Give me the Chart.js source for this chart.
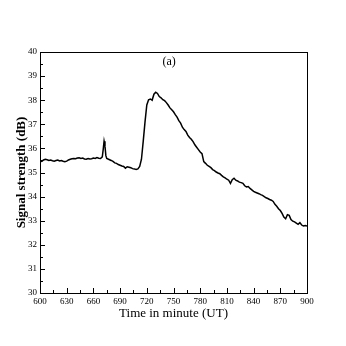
<!DOCTYPE html>
<html>
<head>
<meta charset="utf-8">
<script src="https://cdn.jsdelivr.net/npm/chart.js@4/dist/chart.umd.min.js"></script>
<style>
html,body{margin:0;padding:0;background:#fff;}
#wrap{width:346px;height:346px;}
</style>
</head>
<body>
<div id="wrap"><canvas id="c" width="346" height="346"></canvas></div>
<script>
const times = [600,602,604,606,608,610,612,614,616,618,620,622,624,626,628,630,632,634,636,638,640,642,644,646,648,650,652,654,656,658,660,662,664,666,668,670,671,672,673,674,675,677,680,682,684,686,688,690,692,694,696,698,700,702,704,706,708,710,712,714,716,718,720,722,724,726,728,730,732,734,736,738,740,742,744,746,748,750,752,754,756,758,760,762,764,766,768,770,772,774,776,778,780,782,784,786,788,790,792,794,796,798,800,802,804,806,808,810,812,814,816,818,820,822,824,826,828,830,832,834,836,838,840,842,844,846,848,850,852,854,856,858,860,862,864,866,868,870,872,874,876,878,880,882,884,886,888,890,892,894,896,898,900];
const signal = [35.48,35.46,35.52,35.55,35.53,35.50,35.52,35.49,35.47,35.50,35.52,35.48,35.50,35.47,35.45,35.47,35.52,35.55,35.57,35.58,35.57,35.60,35.61,35.58,35.60,35.56,35.55,35.58,35.56,35.57,35.60,35.58,35.62,35.59,35.58,35.65,35.95,36.30,36.10,35.70,35.58,35.55,35.50,35.46,35.40,35.38,35.33,35.30,35.27,35.25,35.18,35.24,35.22,35.20,35.16,35.15,35.13,35.15,35.25,35.55,36.30,37.10,37.80,38.02,38.05,38.00,38.25,38.33,38.28,38.15,38.10,38.02,37.98,37.90,37.80,37.68,37.60,37.52,37.40,37.30,37.15,37.05,36.88,36.78,36.70,36.55,36.45,36.38,36.28,36.15,36.05,35.95,35.85,35.78,35.45,35.38,35.30,35.25,35.20,35.12,35.08,35.02,34.98,34.95,34.88,34.82,34.78,34.72,34.68,34.55,34.70,34.76,34.68,34.65,34.60,34.58,34.55,34.45,34.40,34.42,34.34,34.28,34.22,34.18,34.15,34.12,34.08,34.05,34.00,33.95,33.92,33.88,33.85,33.80,33.68,33.60,33.50,33.42,33.30,33.15,33.08,33.25,33.22,33.05,32.98,32.95,32.90,32.85,32.92,32.82,32.78,32.80,32.78];
const xTicks = [600,630,660,690,720,750,780,810,840,870,900];
const yTicks = [30,31,32,33,34,35,36,37,38,39,40];
const panelLabel = "(a)";
const xTitle = "Time in minute (UT)";
const yTitle = "Signal strength (dB)";

const points = times.map((t,i)=>({x:t,y:signal[i]}));

const frame = {
  id:'frame',
  afterDraw(chart){
    const {ctx, chartArea:a, scales:{x,y}} = chart;
    ctx.save();
    ctx.strokeStyle='#000';
    ctx.lineWidth=1;
    ctx.strokeRect(Math.round(a.left)+0.5, Math.round(a.top)+0.5, Math.round(a.right-a.left), Math.round(a.bottom-a.top));
    ctx.beginPath();
    for(let v=600; v<=900; v+=15){
      const px=Math.round(x.getPixelForValue(v))+0.5;
      const len = (v%30===0)?5:3;
      ctx.moveTo(px,a.bottom); ctx.lineTo(px,a.bottom-len);
    }
    for(let v=30; v<=40.001; v+=0.5){
      const py=Math.round(y.getPixelForValue(v))+0.5;
      const len = (Math.abs(v-Math.round(v))<1e-6)?5:3;
      ctx.moveTo(a.left,py); ctx.lineTo(a.left+len,py);
    }
    ctx.stroke();
    ctx.fillStyle='#000';
    ctx.font='12px "Liberation Serif"';
    ctx.textAlign='center';
    ctx.textBaseline='middle';
    ctx.fillText(panelLabel, x.getPixelForValue(745), y.getPixelForValue(39.6));
    ctx.restore();
  }
};

new Chart(document.getElementById('c'), {
  type:'line',
  data:{datasets:[{data:points, borderColor:'#000', borderWidth:1.5, pointRadius:0, tension:0, fill:false}]},
  options:{
    responsive:false, animation:false,
    layout:{padding:{left:0,right:39,top:52,bottom:0}},
    plugins:{legend:{display:false}, tooltip:{enabled:false}},
    scales:{
      x:{type:'linear', min:600, max:900,
        afterBuildTicks(s){s.ticks = xTicks.map(v=>({value:v}));},
        afterFit(s){s.height=53;},
        grid:{display:false, drawTicks:false}, border:{display:false},
        ticks:{color:'#000', padding:3, font:{family:'"Liberation Serif"', size:9}, maxRotation:0, autoSkip:false},
        title:{display:true, text:xTitle, color:'#000', font:{family:'"Liberation Serif"', size:13}, padding:{top:0,bottom:25}}
      },
      y:{type:'linear', min:30, max:40,
        afterBuildTicks(s){s.ticks = yTicks.map(v=>({value:v}));},
        afterFit(s){s.width=40;},
        grid:{display:false, drawTicks:false}, border:{display:false},
        ticks:{color:'#000', padding:3, font:{family:'"Liberation Serif"', size:9}, autoSkip:false},
        title:{display:true, text:yTitle, color:'#000', font:{family:'"Liberation Serif"', size:13, weight:'bold'}, padding:{top:14,bottom:0}}
      }
    }
  },
  plugins:[frame]
});
</script>
</body>
</html>
